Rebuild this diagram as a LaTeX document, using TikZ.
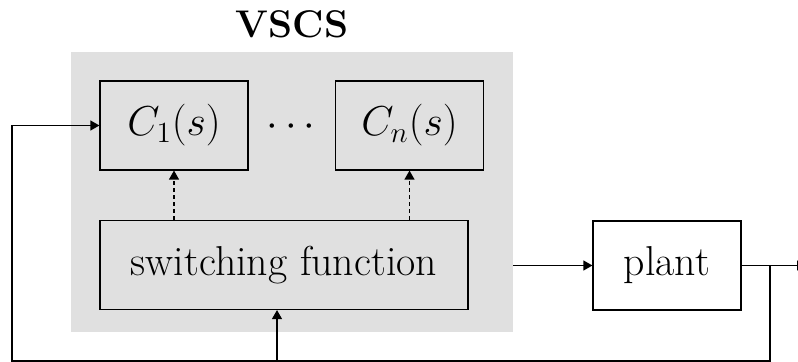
\RequirePackage{fix-cm}
\documentclass[tikz,border=0pt]{standalone}
\usetikzlibrary{arrows.meta}
\definecolor{vgray}{HTML}{E0E0E0}
\begin{document}
\begin{tikzpicture}[x=0.5pt,y=-0.5pt,
  every node/.style={font=\fontsize{20.9}{25}\selectfont},
  blk/.style={draw, line width=0.6pt, minimum width=74pt, minimum height=44.5pt, inner sep=0pt},
  ln/.style={line width=0.6pt},
  arr/.style={ln, -{Triangle[length=4.5pt,width=5pt]}},
  darr/.style={arr, dash pattern=on 2pt off 1.5pt}]
\clip (0,0) rectangle (798,362);
\node[fill=vgray, minimum width=221pt, minimum height=140pt, inner sep=0pt] (vscs) at (292,192) {};
\node[font=\fontsize{19.3}{23}\selectfont\bfseries] (title) at (292,24.5) {VSCS};
\node[blk] (c1) at (174,125.5) {$C_1(s)$};
\node[blk] (cn) at (409.5,125.5) {$C_n(s)$};
\node (dots) at (291,127) {$\cdots$};
\node[blk, minimum width=184pt] (sw) at (284,265) {switching function};
\node[blk, fill=white] (plant) at (667,265.5) {plant};
\coordinate (br) at (770,265.5);
\coordinate (out) at (806,265.5);
\coordinate (fbR) at (770,361);
\coordinate (fbL) at (12,361);
\coordinate (swin) at (277,361);
\draw[darr] (sw.north -| c1) -- (c1.south);
\draw[darr] (sw.north -| cn) -- (cn.south);
\draw[arr] (vscs.east |- plant) -- (plant.west);
\draw[arr] (plant.east) -- (out);
\draw[arr] (br) -- (fbR) -- (fbL) |- (c1.west);
\draw[arr] (swin) -- (swin |- sw.south);
\end{tikzpicture}
\end{document}
